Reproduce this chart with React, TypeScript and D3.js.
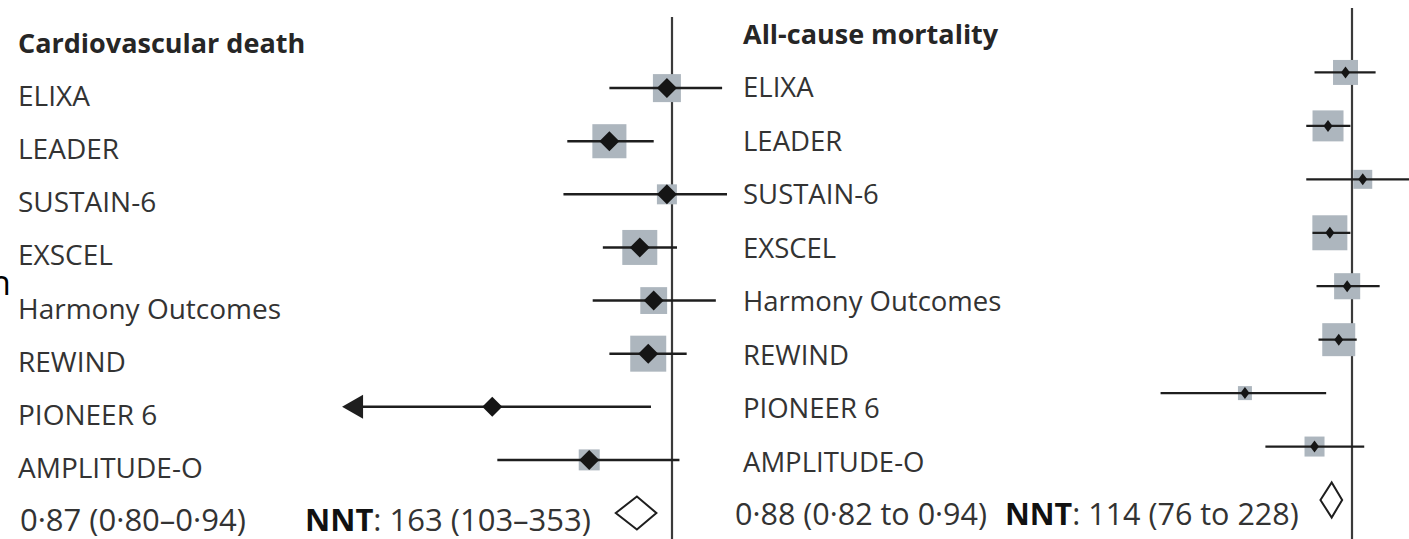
import React, { useEffect, useRef } from "react";
import * as d3 from "d3";

const studies = ["ELIXA", "LEADER", "SUSTAIN-6", "EXSCEL", "Harmony Outcomes", "REWIND", "PIONEER 6", "AMPLITUDE-O"];

// cardiovascular death, hazard ratios
const cvHR = [0.98, 0.78, 0.98, 0.88, 0.93, 0.91, 0.49, 0.72];
const cvLow = [0.78, 0.66, 0.65, 0.76, 0.73, 0.78, 0.27, 0.5];
const cvHigh = [1.22, 0.93, 1.48, 1.02, 1.19, 1.06, 0.92, 1.03];
const cvWeight = [9.8, 14.5, 5, 15.3, 9, 16.2, 1, 5.5];
const cvPooled = [0.87, 0.8, 0.94];

// all-cause mortality
const acmHR = [0.96, 0.86, 1.07, 0.87, 0.97, 0.92, 0.51, 0.79];
const acmLow = [0.79, 0.75, 0.75, 0.78, 0.8, 0.81, 0.3, 0.58];
const acmHigh = [1.16, 0.99, 1.5, 0.99, 1.19, 1.03, 0.85, 1.08];
const acmWeight = [7.8, 12, 4.5, 15.3, 8.5, 13.6, 2.45, 5];
const acmPooled = [0.88, 0.82, 0.94];

const cvSummary = ["0·87 (0·80–0·94)", "163 (103–353)"];
const acmSummary = ["0·88 (0·82 to 0·94)", "114 (76 to 228)"];

const FONT = "'Open Sans', sans-serif";

function drawPanel(svg: any, o: any) {
  const g = svg.append("g").attr("clip-path", `url(#${o.id})`);
  svg.append("clipPath").attr("id", o.id)
    .append("rect").attr("x", o.clip[0]).attr("y", 0)
    .attr("width", o.clip[1] - o.clip[0]).attr("height", 539);

  const x = d3.scaleLog().domain([0.5, 1]).range([o.one - o.k * Math.log(2), o.one]);
  const y = d3.scalePoint().domain(["header", ...studies, "overall"]).range(o.rows);
  const side = d3.scaleSqrt().domain([0, 16.2]).range([0, 36]);

  // line of no effect
  g.append("line")
    .attr("x1", x(1)).attr("x2", x(1))
    .attr("y1", o.lineTop).attr("y2", 539)
    .attr("stroke", "#3a3a3a").attr("stroke-width", 2.2);

  g.append("text")
    .attr("x", o.labelX).attr("y", y("header") + o.textDy)
    .attr("font-family", FONT).attr("font-size", o.titleFs).attr("font-weight", 700)
    .attr("fill", "#262626")
    .text(o.title);

  studies.forEach((s, i) => {
    const cy = y(s);
    g.append("text")
      .attr("x", o.labelX).attr("y", cy + o.textDy)
      .attr("font-family", FONT).attr("font-size", o.fs)
      .attr("fill", "#333")
      .text(s);

    const w = side(o.weight[i]);
    g.append("rect")
      .attr("x", x(o.hr[i]) - w / 2).attr("y", cy - w / 2)
      .attr("width", w).attr("height", w)
      .attr("fill", "#adb6be");

    const arrow = o.low[i] < 0.28;
    g.append("line")
      .attr("x1", x(o.low[i]) + (arrow ? 10 : 0)).attr("x2", x(o.high[i]))
      .attr("y1", cy).attr("y2", cy)
      .attr("stroke", "#1e1e1e").attr("stroke-width", o.lw);

    if (arrow) {
      const tx = x(o.low[i]);
      g.append("path")
        .attr("d", `M${tx},${cy} L${tx + 21},${cy - 12} L${tx + 21},${cy + 12} Z`)
        .attr("fill", "#1e1e1e");
    }

    const cx = x(o.hr[i]);
    g.append("path")
      .attr("d", `M${cx - o.mw},${cy} L${cx},${cy - o.mh} L${cx + o.mw},${cy} L${cx},${cy + o.mh} Z`)
      .attr("fill", "#151515");
  });

  // pooled estimate
  const py = y("overall");
  const p = o.pooled;
  g.append("path")
    .attr("d", `M${x(p[1])},${py} L${x(p[0])},${py - o.dh} L${x(p[2])},${py} L${x(p[0])},${py + o.dh} Z`)
    .attr("fill", "#fff").attr("stroke", "#1e1e1e").attr("stroke-width", 2);

  g.append("text")
    .attr("x", o.sumX[0]).attr("y", py + o.textDy)
    .attr("font-family", FONT).attr("font-size", o.sumFs)
    .attr("fill", "#333")
    .text(o.summary[0]);

  const nnt = g.append("text")
    .attr("x", o.sumX[1]).attr("y", py + o.textDy)
    .attr("font-family", FONT).attr("font-size", o.sumFs)
    .attr("fill", "#333");
  nnt.append("tspan").attr("font-weight", 700).attr("fill", "#111").text("NNT");
  nnt.append("tspan").text(": " + o.summary[1]);
}

function App() {
  const svgRef = useRef<SVGSVGElement>(null);
  const width = 1409;
  const height = 539;

  useEffect(() => {
    const svg = d3.select(svgRef.current);
    svg.selectAll("*").remove();

    // cut-off letter at the left edge of the original figure
    svg.append("text")
      .attr("x", -10).attr("y", 295)
      .attr("font-family", FONT).attr("font-size", 34)
      .attr("fill", "#000")
      .text("n");

    drawPanel(svg, {
      id: "clip-cv", clip: [0, 727], one: 672, k: 252, rows: [35, 513],
      lineTop: 17, labelX: 18, textDy: 18, fs: 28, titleFs: 27, lw: 2.5, mw: 10, mh: 10, dh: 16.5,
      title: "Cardiovascular death",
      hr: cvHR, low: cvLow, high: cvHigh, weight: cvWeight, pooled: cvPooled,
      summary: cvSummary, sumX: [20, 305], sumFs: 31,
    });

    drawPanel(svg, {
      id: "clip-acm", clip: [727, 1409], one: 1352, k: 159, rows: [19, 500],
      lineTop: 8, labelX: 743, textDy: 25, fs: 27.5, titleFs: 27, lw: 2.2, mw: 4.5, mh: 6, dh: 17.5,
      title: "All-cause mortality",
      hr: acmHR, low: acmLow, high: acmHigh, weight: acmWeight, pooled: acmPooled,
      summary: acmSummary, sumX: [735, 1005], sumFs: 30.5,
    });
  }, []);

  return (
    <svg ref={svgRef} width={width} height={height} style={{ position: "absolute", left: 0, top: 0, background: "#fff" }} />
  );
}

export default App;
